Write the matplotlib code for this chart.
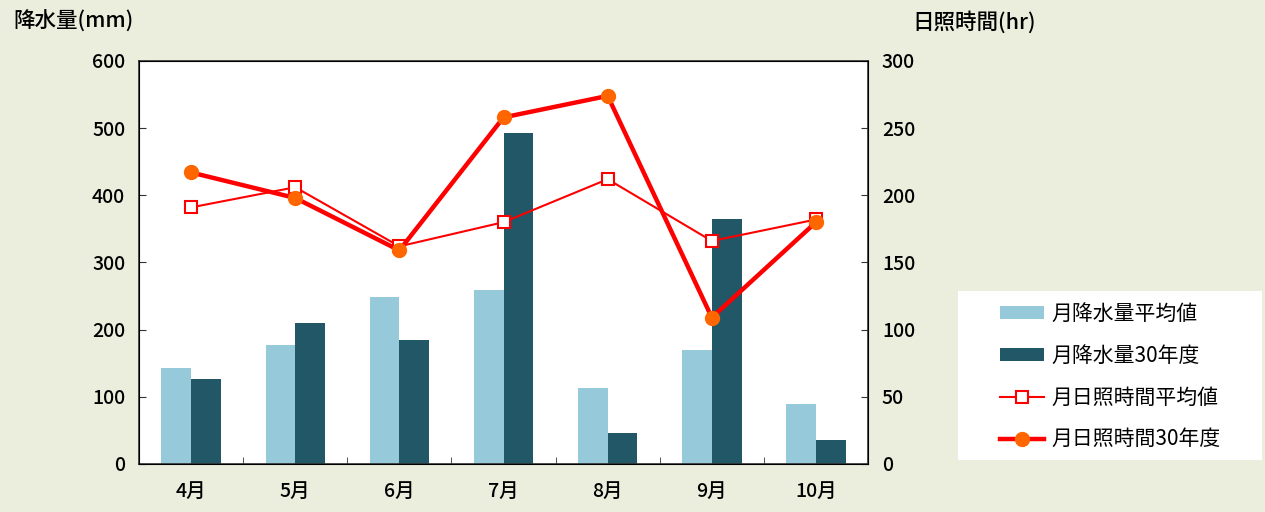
import numpy as np
import matplotlib.pyplot as plt
from matplotlib.ticker import FixedLocator
from matplotlib.patches import Rectangle

plt.rcParams['font.family'] = ['Noto Sans CJK JP', 'DejaVu Sans']

months = ['4月', '5月', '6月', '7月', '8月', '9月', '10月']
rain_avg = [143, 177, 249, 259, 113, 170, 89]
rain_2018 = [126, 210, 185, 493, 46, 365, 36]
sun_avg = [191, 206, 162, 180, 212, 166, 182]
sun_2018 = [217, 198, 159, 258, 274, 109, 180]

bg = '#EBEEDD'
light = '#96CADB'
dark = '#215766'
W, H = 1265, 512

fig = plt.figure(figsize=(12.65, 5.12), dpi=100, facecolor=bg)
ax = fig.add_axes([0.1099, 0.0938, 0.5763, 0.7871])
ax.set_facecolor('white')
x = np.arange(len(months))
w = 0.285
b1 = ax.bar(x - w / 2, rain_avg, w, color=light, label='月降水量平均値', zorder=2)
b2 = ax.bar(x + w / 2, rain_2018, w, color=dark, label='月降水量30年度', zorder=2)
ax.set_xlim(-0.5, len(months) - 0.5)
ax.set_ylim(0, 600)
ax.set_yticks(range(0, 601, 100))
ax.set_xticks(x)
ax.set_xticklabels(months, fontsize=14, fontweight='medium')
ax.xaxis.set_minor_locator(FixedLocator(x[:-1] + 0.5))
ax.tick_params(axis='x', which='major', length=0, pad=13)
ax.tick_params(axis='x', which='minor', direction='in', length=5, color='#333333')
ax.tick_params(axis='y', direction='in', length=5, labelsize=14, pad=10, color='#333333')
for s in ax.spines.values():
    s.set_color('#333333')
    s.set_linewidth(1.2)

ax2 = ax.twinx()
ax2.set_ylim(0, 300)
ax2.set_yticks(range(0, 301, 50))
ax2.tick_params(axis='y', direction='in', length=5, labelsize=14, pad=10, color='#333333')
for lab in ax.get_yticklabels() + ax2.get_yticklabels():
    lab.set_fontweight('medium')
l1, = ax2.plot(x, sun_avg, color='#FF0000', lw=1.5, marker='s', ms=9,
               mfc='white', mec='#FF0000', mew=1.5, label='月日照時間平均値', zorder=3)
l2, = ax2.plot(x, sun_2018, color='#FF0000', lw=3.2, marker='o', ms=10,
               mfc='#FF6600', mec='#FF6600', label='月日照時間30年度', zorder=4)

fig.text(13 / W, 1 - 22 / H, '降水量(mm)', fontsize=15.5, fontweight='medium',
         va='center', ha='left')
fig.text(912 / W, 1 - 22 / H, '日照時間(hr)', fontsize=15.5, fontweight='medium',
         va='center', ha='left')

fig.patches.append(Rectangle((958 / W, 1 - 460 / H), 304 / W, 169 / H,
                             transform=fig.transFigure, facecolor='white',
                             edgecolor='none', zorder=0))
handles = [b1, b2, l1, l2]
leg = fig.legend(handles, [h.get_label() for h in handles],
                 loc='upper left', bbox_to_anchor=(1000 / W, 1 - 303 / H),
                 fontsize=15, frameon=False, handlelength=2.1, handleheight=0.55,
                 labelspacing=0.95, borderpad=0, handletextpad=0.35,
                 borderaxespad=0)

fig.savefig('out.png', dpi=100, facecolor=bg)
